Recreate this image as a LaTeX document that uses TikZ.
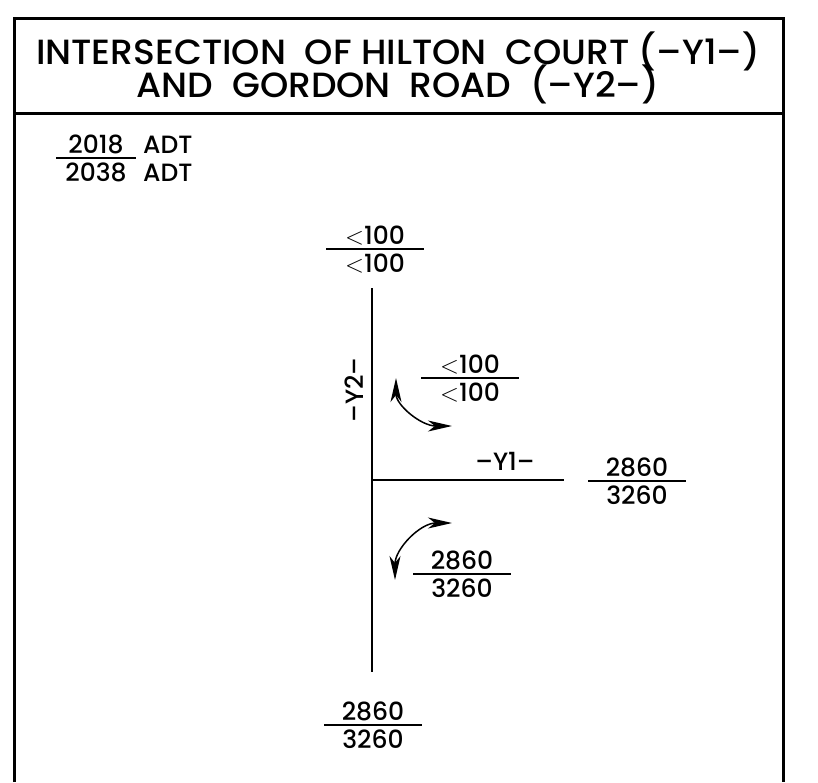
\documentclass[tikz,border=0pt]{standalone}
\usepackage{fontspec}
\setmainfont{Poppins}[UprightFont={* Medium}]
\newfontfamily\titlefont{Poppins}[UprightFont={* Medium}, FakeStretch=1.03]
\usetikzlibrary{arrows.meta}

\newcommand{\tightlines}{\lineskiplimit=-100pt\relax}
\tikzset{
  frame/.style={line width=3pt},
  road/.style={line width=1.8pt},
  fracline/.style={line width=1.4pt},
  vol/.style={inner sep=0pt, anchor=base, font=\fontsize{25}{25}\selectfont},
  title/.style={inner sep=0pt, align=center,
    font=\titlefont\fontsize{35}{33}\selectfont\tightlines},
  turn/.style={line width=1.5pt,
    {Stealth[length=24pt,width=11pt,inset=7pt]}-{Stealth[length=24pt,width=11pt,inset=7pt]}},
}

% traffic volume as a fraction: name, position, top, bottom
\newcommand{\volfrac}[4]{%
  \coordinate (#1) at #2;
  \draw[fracline] ([xshift=-49pt]#1) -- ([xshift=49pt]#1);
  \node[vol] (#1-top) at ([yshift=5pt]#1) {#3};
  \node[vol] (#1-bot) at ([yshift=-23pt]#1) {#4};
}
\newcommand{\lt}{$<$}

\begin{document}
\begin{tikzpicture}[x=1pt,y=-1pt]
  \useasboundingbox (0,0) rectangle (818,782);

  %% Frame and title
  \draw[frame] (14.5,782) -- (14.5,18) -- (783,18) -- (783,782);
  \draw[frame] (14.5,113) -- (783,113);
  \node[title] (title) at (398,68)
    {INTERSECTION\ \ OF HILTON\ \ COURT (–Y1–)\\AND\ \ GORDON\ \ ROAD\ \ (–Y2–)};

  %% Legend
  \coordinate (legend) at (96,158);
  \draw[fracline] (56,158) -- (136,158);
  \node[vol] (legend-top) at ([yshift=5pt]legend) {2018};
  \node[vol] (legend-bot) at ([yshift=-23pt]legend) {2038};
  \node[vol, anchor=base west] (adt-top) at (143,153) {ADT};
  \node[vol, anchor=base west] (adt-bot) at (143,181) {ADT};

  %% Roads
  \coordinate (y2top) at (372,288);
  \coordinate (y2bot) at (372,672);
  \coordinate (center) at (372,480);
  \coordinate (y1end) at (564,480);
  \draw[road] (y2top) -- (y2bot);
  \draw[road] (center) -- (y1end);
  \node[vol, anchor=center, rotate=90] (y2label) at (354,390) {–Y2–};
  \node[vol] (y1label) at (505,470) {–Y1–};

  %% Turning movements
  \coordinate (lt-a) at (396,378);
  \coordinate (lt-b) at (452,426);
  \draw[turn] (lt-a) .. controls (396,405) and (421,426) .. (lt-b);
  \coordinate (rt-a) at (452,523);
  \coordinate (rt-b) at (395,580);
  \draw[turn] (rt-a) .. controls (420,523) and (395,549) .. (rt-b);

  %% Volumes
  \volfrac{north}{(375,249)}{\lt100}{\lt100}
  \volfrac{turnN}{(470,378)}{\lt100}{\lt100}
  \volfrac{east}{(637,481)}{2860}{3260}
  \volfrac{turnS}{(462,574)}{2860}{3260}
  \volfrac{south}{(373,725)}{2860}{3260}
\end{tikzpicture}
\end{document}
